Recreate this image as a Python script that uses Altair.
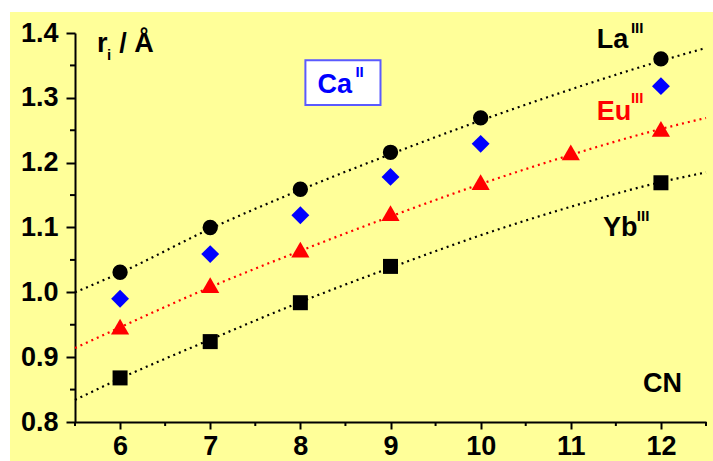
import altair as alt
import pandas as pd

# ---- data ----
la_cn = [6, 7, 8, 9, 10, 12]
la_r = [1.031, 1.10, 1.159, 1.216, 1.269, 1.36]
ca_cn = [6, 7, 8, 9, 10, 12]
ca_r = [0.99, 1.059, 1.119, 1.178, 1.229, 1.318]
eu_cn = [6, 7, 8, 9, 10, 11, 12]
eu_r = [0.947, 1.011, 1.066, 1.122, 1.170, 1.216, 1.252]
yb_cn = [6, 7, 8, 9, 12]
yb_r = [0.868, 0.924, 0.984, 1.040, 1.169]

fit_cn = [5.5, 6, 7, 8, 9, 10, 11, 12, 12.5]
la_fit = [1.000, 1.030, 1.098, 1.158, 1.213, 1.265, 1.313, 1.357, 1.377]
eu_fit = [0.914, 0.946, 1.008, 1.064, 1.117, 1.167, 1.212, 1.252, 1.269]
yb_fit = [0.834, 0.867, 0.927, 0.985, 1.038, 1.088, 1.132, 1.170, 1.185]

x_ticks = [6, 7, 8, 9, 10, 11, 12]
x_minor = [5.5, 6.5, 7.5, 8.5, 9.5, 10.5, 11.5, 12.5]
y_ticks = [0.8, 0.9, 1.0, 1.1, 1.2, 1.3, 1.4]
y_minor = [0.85, 0.95, 1.05, 1.15, 1.25, 1.35]

FONT = "Liberation Sans"
W, H = 631, 389
PL, PT = 75, 33

xs = alt.Scale(domain=[5.5, 12.5], nice=False, zero=False)
ys = alt.Scale(domain=[0.8, 1.4], nice=False, zero=False)

xax = alt.Axis(values=x_ticks, title=None, grid=False, domainColor="black", domainWidth=2,
               tickColor="black", tickWidth=2, tickSize=7, labelFont=FONT, labelFontSize=27,
               labelFontWeight="bold", labelColor="black", labelPadding=4, labelFlush=False,
               format="d")
yax = alt.Axis(values=y_ticks, title=None, grid=False, domainColor="black", domainWidth=2,
               tickColor="black", tickWidth=2, tickSize=9, labelFont=FONT, labelFontSize=27,
               labelFontWeight="bold", labelColor="black", labelPadding=8, format=".1f",
               labelFlush=False)

one = pd.DataFrame({"a": [0]})

# white margins (top / left) of the original figure
strip_top = alt.Chart(one).mark_rect(color="white").encode(
    x=alt.value(-PL), x2=alt.value(713 - PL), y=alt.value(-PT), y2=alt.value(-PT + 12))
strip_left = alt.Chart(one).mark_rect(color="white").encode(
    x=alt.value(-PL), x2=alt.value(-PL + 10), y=alt.value(-PT), y2=alt.value(461 - PT))

def fit_line(vals, color):
    df = pd.DataFrame({"cn": fit_cn, "r": vals})
    return alt.Chart(df).mark_line(color=color, strokeWidth=2.2, strokeDash=[2, 4],
                                   interpolate="monotone").encode(
        x=alt.X("cn:Q", scale=xs, axis=xax), y=alt.Y("r:Q", scale=ys, axis=yax))

def pts(cn, r, shape, color, size):
    df = pd.DataFrame({"cn": cn, "r": r})
    return alt.Chart(df).mark_point(shape=shape, filled=True, color=color, size=size,
                                    opacity=1).encode(
        x=alt.X("cn:Q", scale=xs), y=alt.Y("r:Q", scale=ys))

minor_x = alt.Chart(pd.DataFrame({"cn": x_minor})).mark_rule(color="black", strokeWidth=2).encode(
    x=alt.X("cn:Q", scale=xs), y=alt.value(H), y2=alt.value(H + 4))
minor_y = alt.Chart(pd.DataFrame({"r": y_minor})).mark_rule(color="black", strokeWidth=2).encode(
    y=alt.Y("r:Q", scale=ys), x=alt.value(-5), x2=alt.value(0))

# Ca box
box = alt.Chart(pd.DataFrame({"x1": [8.056], "x2": [8.889], "y1": [1.358], "y2": [1.289]})).mark_rect(
    fill="white", stroke="#5a5aff", strokeWidth=2).encode(
    x=alt.X("x1:Q", scale=xs), x2="x2:Q", y=alt.Y("y1:Q", scale=ys), y2="y2:Q")

ann_text = ["r", "i", "/ Å", "Ca", "II", "La", "III", "Eu", "III", "Yb", "III", "CN"]
ann_x = [5.744, 5.856, 5.99, 8.189, 8.611, 11.289, 11.667, 11.289, 11.667, 11.356, 11.733, 11.80]
ann_y = [1.371, 1.358, 1.371, 1.3074, 1.332, 1.377, 1.4, 1.2657, 1.292, 1.0867, 1.110, 0.846]
ann_size = [27, 15, 27, 27, 15, 27, 15, 27, 15, 27, 15, 27]
ann_color = ["black", "black", "black", "#0000ff", "#0000ff", "black", "black",
             "#ff0000", "#ff0000", "black", "black", "black"]
ann = pd.DataFrame({"t": ann_text, "x": ann_x, "y": ann_y, "s": ann_size, "c": ann_color})
texts = alt.Chart(ann).mark_text(font=FONT, fontWeight="bold", align="left",
                                 baseline="alphabetic").encode(
    x=alt.X("x:Q", scale=xs), y=alt.Y("y:Q", scale=ys), text="t:N",
    size=alt.Size("s:Q", scale=None, legend=None), color=alt.Color("c:N", scale=None, legend=None))

chart = alt.layer(
    strip_top, strip_left,
    fit_line(la_fit, "black"), fit_line(eu_fit, "#ff0000"), fit_line(yb_fit, "black"),
    minor_x, minor_y,
    pts(la_cn, la_r, "circle", "black", 235),
    pts(ca_cn, ca_r, "diamond", "#0000ff", 320),
    pts(eu_cn, eu_r, "triangle-up", "#ff0000", 330),
    pts(yb_cn, yb_r, "square", "black", 225),
    box, texts,
).properties(
    width=W, height=H, background="#ffff99",
    padding={"left": PL, "top": PT, "right": 713 - PL - W, "bottom": 461 - PT - H},
    autosize=alt.AutoSizeParams(type="none"),
).configure_view(stroke=None)

chart.save("out.html", embed_options={"renderer": "svg", "actions": False})
